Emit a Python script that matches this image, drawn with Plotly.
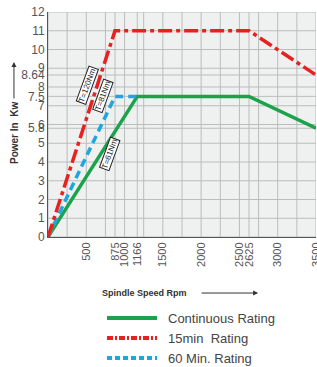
import plotly.graph_objects as go

# Data
cont_x = [0, 1166, 2625, 3500]
cont_y = [0, 7.5, 7.5, 5.8]
r15_x = [0, 875, 2625, 3500]
r15_y = [0, 11, 11, 8.64]
r60_x = [0, 875, 1166]
r60_y = [0, 7.5, 7.5]

x_ticks = [500, 875, 1000, 1166, 1500, 2000, 2500, 2625, 3000, 3500]
y_ticks = [0, 1, 2, 3, 4, 5, 5.8, 6, 7, 7.5, 8, 8.64, 9, 10, 11, 12]
x_grid = list(range(0, 3501, 250)) + [875, 1166, 2625]
y_grid = list(range(0, 13)) + [5.8, 7.5, 8.64]

torque_labels = ["T=120Nm", "T=81Nm", "T=61Nm"]
torque_pos = [(509, 8.1), (718, 7.55), (809, 4.45)]

GREEN = "#1ba34b"
RED = "#e8201f"
BLUE = "#1fa6e0"

fig = go.Figure()
for xv in x_grid:
    fig.add_shape(type="line", x0=xv, x1=xv, y0=0, y1=12, xref="x", yref="y",
                  line=dict(color="#b9bdbd", width=1), layer="below")
for yv in y_grid:
    fig.add_shape(type="line", x0=0, x1=3500, y0=yv, y1=yv, xref="x", yref="y",
                  line=dict(color="#b9bdbd", width=1), layer="below")

fig.add_trace(go.Scatter(x=cont_x, y=cont_y, mode="lines",
                         line=dict(color=GREEN, width=3.5), showlegend=False))
fig.add_trace(go.Scatter(x=r60_x, y=r60_y, mode="lines",
                         line=dict(color=BLUE, width=3.5, dash="8px,5px"), showlegend=False))
fig.add_trace(go.Scatter(x=r15_x, y=r15_y, mode="lines",
                         line=dict(color=RED, width=3.5, dash="14px,4px,4px,4px"), showlegend=False))

for t, (tx, ty) in zip(torque_labels, torque_pos):
    fig.add_annotation(x=tx, y=ty, text=t, showarrow=False, textangle=-70,
                       font=dict(size=8, color="#222", family="Liberation Sans"),
                       bgcolor="white", bordercolor="#222", borderwidth=1, borderpad=0)

fig.update_layout(
    width=317, height=367,
    margin=dict(l=48, r=1, t=12, b=130),
    paper_bgcolor="white", plot_bgcolor="#eff1f0",
    font=dict(family="Liberation Sans", color="#555"),
    xaxis=dict(range=[0, 3500], tickvals=x_ticks, ticktext=[str(v) for v in x_ticks],
               tickangle=-90, showgrid=False, zeroline=False, showline=True,
               linecolor="#555", linewidth=1, mirror=False, automargin=False,
               ticklabeloverflow="allow",
               tickfont=dict(size=11, color="#555"), ticks="", ticklen=0),
    yaxis=dict(range=[0, 12], tickvals=y_ticks,
               ticktext=["0", "1", "2", "3", "4", "5", "5.8", "6", "7", "7.5", "8", "8.64", "9", "10", "11", "12"],
               showgrid=False, zeroline=False, showline=True, linecolor="#555", linewidth=1,
               automargin=False, ticklabeloverflow="allow",
               tickfont=dict(size=12, color="#555"), ticks=""),
)

# Y axis title and arrow
fig.add_annotation(xref="paper", yref="paper", x=-0.127, y=0.462, text="<b>Power In  Kw</b>",
                   xanchor="center", yanchor="middle",
                   textangle=-90, showarrow=False, font=dict(size=10, color="#333"))
fig.add_annotation(xref="paper", yref="paper", x=-0.127, y=0.778, ax=0, ay=38,
                   text="", showarrow=True,
                   arrowhead=2, arrowsize=1, arrowwidth=1, arrowcolor="#333")

# X axis title and arrow
fig.add_annotation(xref="paper", yref="paper", x=(100 - 48) / 268, y=-0.249, text="<b>Spindle Speed Rpm</b>",
                   xanchor="left", yanchor="middle", showarrow=False, font=dict(size=9, color="#333"))
fig.add_annotation(xref="paper", yref="paper", x=0.784, y=-0.249, ax=-58, ay=0,
                   text="", showarrow=True,
                   arrowhead=2, arrowsize=1, arrowwidth=1, arrowcolor="#333")

# Legend (drawn manually)
legend_names = ["Continuous Rating", "15min  Rating", "60 Min. Rating"]
legend_colors = [GREEN, RED, BLUE]
legend_dash = ["solid", "6px,2px,2px,2px", "5px,3px"]
legend_y = [318, 338, 358]
for name, col, d, ly in zip(legend_names, legend_colors, legend_dash, legend_y):
    yp = (237 - ly) / 225
    fig.add_shape(type="line", xref="paper", yref="paper", x0=(107 - 48) / 268, x1=(157 - 48) / 268,
                  y0=yp, y1=yp, line=dict(color=col, width=4, dash=d))
    fig.add_annotation(xref="paper", yref="paper", x=(166 - 48) / 268, y=yp,
                       text=name, xanchor="left", yanchor="middle", showarrow=False,
                       font=dict(size=13, color="#444"))

fig.write_html("out.html", config={"displayModeBar": False},
               post_script="document.body.style.margin='0px';")
